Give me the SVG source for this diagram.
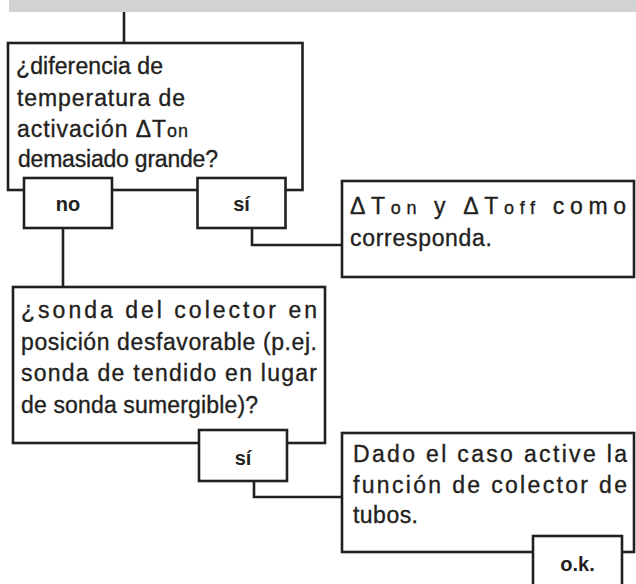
<svg xmlns="http://www.w3.org/2000/svg" width="636" height="584" viewBox="0 0 636 584">
<style>
.box{fill:#fff;stroke:#231f20;stroke-width:2.6}
.ln{fill:none;stroke:#231f20;stroke-width:2.6}
.t{font-family:"Liberation Sans",Arial,sans-serif;font-size:23px;fill:#231f20;stroke:#231f20;stroke-width:0.35}
.s{font-size:18px}
.b{font-family:"Liberation Sans",Arial,sans-serif;font-size:20px;font-weight:bold;fill:#231f20;text-anchor:middle}
</style>
<rect x="9" y="0" width="627" height="12" fill="#d1d2d4"/>
<g id="connectors">
<line class="ln" x1="124" y1="12" x2="124" y2="43"/>
<line class="ln" x1="63" y1="228" x2="63" y2="287"/>
<polyline class="ln" points="252,228 252,245 342,245"/>
<polyline class="ln" points="254,481 254,497 343,497"/>
</g>
<g id="q1">
<rect class="box" x="8" y="43" width="294.5" height="147"/>
<text class="t" x="16" y="74" textLength="147" lengthAdjust="spacing">¿diferencia de</text>
<text class="t" x="17" y="105.5" textLength="168" lengthAdjust="spacing">temperatura de</text>
<text class="t" x="17" y="137" textLength="171" lengthAdjust="spacing">activación ΔT<tspan class="s">on</tspan></text>
<text class="t" x="18" y="167" textLength="200" lengthAdjust="spacing">demasiado grande?</text>
</g>
<g id="no1">
<rect class="box" x="24" y="178" width="88" height="50"/>
<text class="b" x="68" y="210.5">no</text>
</g>
<g id="si1">
<rect class="box" x="197.5" y="178" width="88" height="50"/>
<text class="b" x="241.5" y="210.5">sí</text>
</g>
<g id="a1">
<rect class="box" x="342" y="181" width="292" height="96"/>
<text class="t" x="350" y="214" textLength="276" lengthAdjust="spacing">ΔT<tspan class="s">on</tspan> y ΔT<tspan class="s">off</tspan> como</text>
<text class="t" x="350" y="246" textLength="142" lengthAdjust="spacing">corresponda.</text>
</g>
<g id="q2">
<rect class="box" x="13" y="287" width="312" height="156"/>
<text class="t" x="21" y="318" textLength="296" lengthAdjust="spacing">¿sonda del colector en</text>
<text class="t" x="21" y="349.5" textLength="296" lengthAdjust="spacing">posición desfavorable (p.ej.</text>
<text class="t" x="21" y="381" textLength="296" lengthAdjust="spacing">sonda de tendido en lugar</text>
<text class="t" x="21" y="412.5" textLength="237" lengthAdjust="spacing">de sonda sumergible)?</text>
</g>
<g id="si2">
<rect class="box" x="199" y="430" width="88" height="51"/>
<text class="b" x="243" y="465">sí</text>
</g>
<g id="a2">
<rect class="box" x="342" y="433" width="292" height="119"/>
<text class="t" x="353" y="462" textLength="274" lengthAdjust="spacing">Dado el caso active la</text>
<text class="t" x="353" y="493" textLength="274" lengthAdjust="spacing">función de colector de</text>
<text class="t" x="353" y="523" textLength="65" lengthAdjust="spacing">tubos.</text>
</g>
<g id="ok">
<rect class="box" x="533" y="536" width="89" height="51"/>
<text class="b" x="577.5" y="571">o.k.</text>
</g>
</svg>
